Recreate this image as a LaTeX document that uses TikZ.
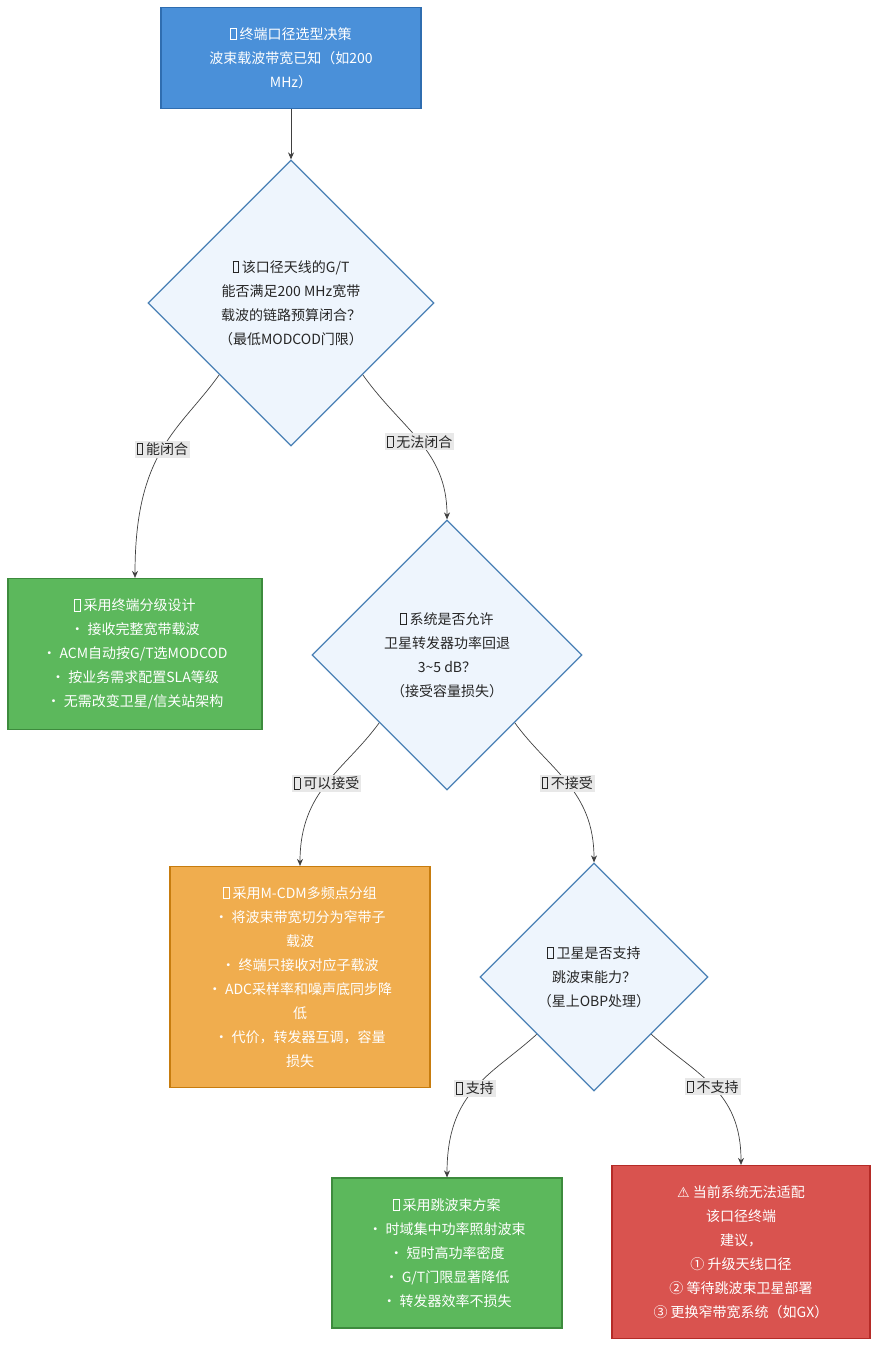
\documentclass[tikz,border=0pt]{standalone}
\usepackage{fontspec}
\setmainfont{Noto Sans CJK SC}
\newfontfamily\symfont{DejaVu Sans}
\usetikzlibrary{arrows.meta, shapes.geometric, positioning}
\definecolor{blueN}{HTML}{4A90D9}
\definecolor{blueD}{HTML}{2F6DB0}
\definecolor{askF}{HTML}{EEF5FD}
\definecolor{askD}{HTML}{4A80B5}
\definecolor{okF}{HTML}{5CB85C}
\definecolor{okD}{HTML}{3D8B3D}
\definecolor{midF}{HTML}{F0AD4E}
\definecolor{midD}{HTML}{C77C0E}
\definecolor{badF}{HTML}{D9534F}
\definecolor{badD}{HTML}{B52B27}
\newcommand\tofu{{\fboxsep=0pt\fboxrule=0.6pt\fbox{\rule{0pt}{11pt}\rule{5pt}{0pt}}}}
\tikzset{
    box/.style args={#1 #2}{draw=#2, fill=#1, line width=1.2pt, text=white, align=center, inner sep=0pt},
    ask/.style={diamond, draw=askD, fill=askF, line width=1.2pt, text=black!85, align=center, inner sep=0pt, shape aspect=1},
    flow/.style={draw=black!75, line width=0.7pt, -{Stealth[length=7pt,width=6pt]}},
    tag/.style={fill=black!9, text=black!85, inner sep=2pt, font=\fontsize{14}{16}\selectfont}
}
\begin{document}
\begin{tikzpicture}[x=1pt, y=-1pt, font=\fontsize{14}{24}\selectfont]
    \useasboundingbox (0,0) rectangle (879,1348);
    % steps
    \node[box={blueN blueD}, minimum width=260pt, minimum height=101pt] (top) at (291,58)
        {\tofu\ 终端口径选型决策\\波束载波带宽已知（如200\\MHz）};
    \node[ask, minimum width=286pt, minimum height=286pt] (q1) at (291,303)
        {\tofu\ 该口径天线的G/T\\能否满足200 MHz宽带\\载波的链路预算闭合？\\（最低MODCOD门限）};
    \node[box={okF okD}, minimum width=254pt, minimum height=151pt] (tier) at (135,654)
        {\tofu\ 采用终端分级设计\\• 接收完整宽带载波\\• ACM自动按G/T选MODCOD\\• 按业务需求配置SLA等级\\• 无需改变卫星/信关站架构};
    \node[ask, minimum width=270pt, minimum height=270pt] (q2) at (447,655)
        {\tofu\ 系统是否允许\\卫星转发器功率回退\\3\textasciitilde5 dB？\\（接受容量损失）};
    \node[box={midF midD}, minimum width=260pt, minimum height=221pt] (mcdm) at (300,977)
        {\tofu\ 采用M-CDM多频点分组\\• 将波束带宽切分为窄带子\\载波\\• 终端只接收对应子载波\\• ADC采样率和噪声底同步降\\低\\• 代价，转发器互调，容量\\损失};
    \node[ask, minimum width=228pt, minimum height=228pt] (q3) at (594,977)
        {\tofu\ 卫星是否支持\\跳波束能力？\\（星上OBP处理）};
    \node[box={okF okD}, minimum width=230pt, minimum height=150pt] (hop) at (447,1253)
        {\tofu\ 采用跳波束方案\\• 时域集中功率照射波束\\• 短时高功率密度\\• G/T门限显著降低\\• 转发器效率不损失};
    \node[box={badF badD}, minimum width=258pt, minimum height=173pt] (none) at (741,1252)
        {{\symfont ⚠}\ 当前系统无法适配\\该口径终端\\建议，\\① 升级天线口径\\② 等待跳波束卫星部署\\③ 更换窄带宽系统（如GX）};
    % links
    \draw[flow] (top) -- (q1);
    \draw[flow] (q1.south west) .. controls (180,430) and (135,450) .. node[tag, pos=0.5] (t1) {\tofu\ 能闭合} (tier.north);
    \draw[flow] (q1.south east) .. controls (402,430) and (447,450) .. node[tag, pos=0.5] (t2) {\tofu\ 无法闭合} (q2.north);
    \draw[flow] (q2.south west) .. controls (345,770) and (300,790) .. node[tag, pos=0.5] (t3) {\tofu\ 可以接受} (mcdm.north);
    \draw[flow] (q2.south east) .. controls (549,770) and (594,790) .. node[tag, pos=0.5] (t4) {\tofu\ 不接受} (q3.north);
    \draw[flow] (q3.south west) .. controls (492,1075) and (447,1090) .. node[tag, pos=0.5] (t5) {\tofu\ 支持} (hop.north);
    \draw[flow] (q3.south east) .. controls (696,1075) and (741,1090) .. node[tag, pos=0.5] (t6) {\tofu\ 不支持} (none.north);
\end{tikzpicture}
\end{document}
